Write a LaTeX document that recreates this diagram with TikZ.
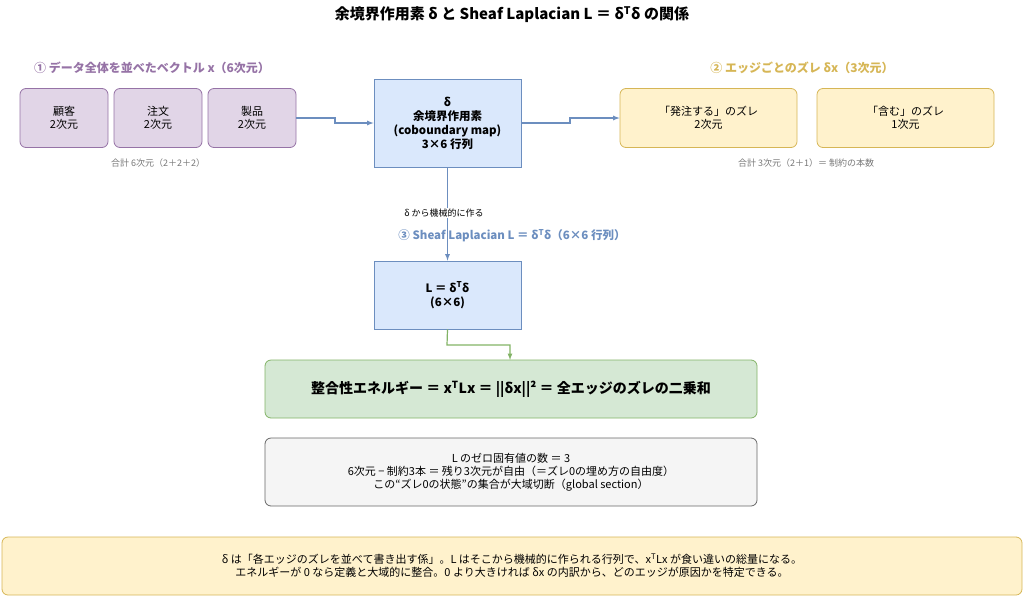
\documentclass[tikz,border=0pt]{standalone}
\usepackage{fontspec}
\setmainfont{Noto Sans CJK JP}
\usepackage{xcolor}
\definecolor{purplefill}{HTML}{e1d5e7}
\definecolor{purpleline}{HTML}{9673a6}
\definecolor{bluefill}{HTML}{dae8fc}
\definecolor{blueline}{HTML}{6c8ebf}
\definecolor{yellowfill}{HTML}{fff2cc}
\definecolor{yellowline}{HTML}{d6b656}
\definecolor{greenfill}{HTML}{d5e8d4}
\definecolor{greenline}{HTML}{82b366}
\definecolor{grayfill}{HTML}{f5f5f5}
\definecolor{grayline}{HTML}{666666}
\definecolor{notegray}{HTML}{777777}

\begin{document}
\begin{tikzpicture}[x=1pt, y=-1pt,
    box/.style = {draw, rectangle, rounded corners = 6pt, align = center, font = \fontsize{11}{13}\selectfont, line width = 0.8pt},
    vecbox/.style = {box, fill = purplefill, draw = purpleline, minimum width = 88pt, minimum height = 59pt},
    edgebox/.style = {box, fill = yellowfill, draw = yellowline, minimum width = 177pt, minimum height = 59pt},
    opbox/.style = {box, rounded corners = 0pt, fill = bluefill, draw = blueline, minimum width = 147pt, font = \fontsize{11.5}{14}\selectfont\bfseries},
    note/.style = {font = \fontsize{9}{11}\selectfont, text = notegray},
    link/.style = {->, > = latex, line width = 1.2pt}]
        \useasboundingbox (0, 0) rectangle (1024, 597);

        % Title
        \node (title) at (512, 15) {\fontsize{15}{17}\selectfont\bfseries 余境界作用素 δ と Sheaf Laplacian L ＝ δ\textsuperscript{T}δ の関係};

        % Nodes
        \node [font = \fontsize{12}{14}\selectfont\bfseries, text = purpleline] (xlabel) at (152, 68) {① データ全体を並べたベクトル x（6次元）};
        \node [vecbox] (cust) at (64, 118) {顧客\\2次元};
        \node [vecbox] (order) at (158, 118) {注文\\2次元};
        \node [vecbox] (prod) at (252, 118) {製品\\2次元};
        \node [note] (xsum) at (158, 163) {合計 6次元（2＋2＋2）};

        \node [opbox, minimum height = 88pt] (delta) at (447.5, 123) {δ\\余境界作用素\\(coboundary map)\\3×6 行列};

        \node [font = \fontsize{12}{14}\selectfont\bfseries, text = yellowline] (dxlabel) at (802, 68) {② エッジごとのズレ δx（3次元）};
        \node [edgebox] (place) at (708.5, 118) {「発注する」のズレ\\2次元};
        \node [edgebox] (contain) at (905.5, 118) {「含む」のズレ\\1次元};
        \node [note] (dxsum) at (806, 163) {合計 3次元（2＋1）＝ 制約の本数};

        \node [opbox, minimum height = 68pt] (lap) at (447.5, 295) {L ＝ δ\textsuperscript{T}δ\\(6×6)};

        \node [box, fill = greenfill, draw = greenline, minimum width = 492pt, minimum height = 58pt, font = \fontsize{14}{16}\selectfont\bfseries] (energy) at (511, 389) {整合性エネルギー ＝ x\textsuperscript{T}Lx ＝ ||δx||² ＝ 全エッジのズレの二乗和};
        \node [box, fill = grayfill, draw = grayline, minimum width = 492pt, minimum height = 68pt] (kernel) at (511, 472) {L のゼロ固有値の数 ＝ 3\\6次元 − 制約3本 ＝ 残り3次元が自由（＝ズレ0の埋め方の自由度）\\この“ズレ0の状態”の集合が大域切断（global section）};
        \node [box, fill = yellowfill, draw = yellowline, minimum width = 1020pt, minimum height = 58pt] (summary) at (512, 566) {δ は「各エッジのズレを並べて書き出す係」。L はそこから機械的に作られる行列で、x\textsuperscript{T}Lx が食い違いの総量になる。\\エネルギーが 0 なら定義と大域的に整合。0 より大きければ δx の内訳から、どのエッジが原因かを特定できる。};

        % Draw the links
        \draw [link, blueline] (prod.east) -- (335, 118) -- (335, 123) -- (delta.west);
        \draw [link, blueline] (delta.east) -- (570, 123) -- (570, 118) -- (place.west);
        \draw [link, blueline] (delta.south) -- (lap.north);
        \draw [link, greenline] (lap.south) -- (447, 345) -- (510, 345) -- (510, 360);

        % Link labels
        \node [font = \fontsize{9}{11}\selectfont, fill = white, inner sep = 1pt] (madefrom) at (444, 213) {δ から機械的に作る};
        \node [font = \fontsize{11.5}{13}\selectfont\bfseries, text = blueline] (laplabel) at (512, 236) {③ Sheaf Laplacian L ＝ δ\textsuperscript{T}δ（6×6 行列）};
\end{tikzpicture}
\end{document}
